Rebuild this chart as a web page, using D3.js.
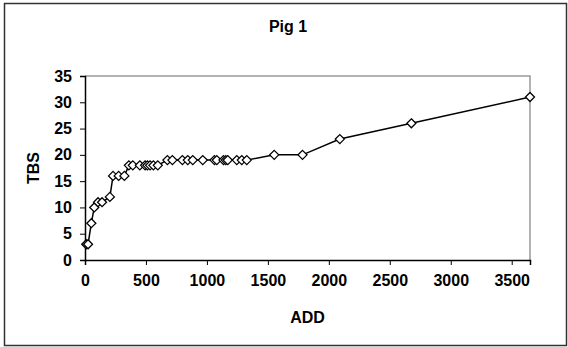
<!DOCTYPE html>
<html><head><meta charset="utf-8">
<script src="https://cdn.jsdelivr.net/npm/d3@7"></script>
<style>
html,body{margin:0;padding:0;background:#fff;}
text{font-family:"Liberation Sans",Arial,sans-serif;font-weight:bold;fill:#000;}
</style></head>
<body>
<svg id="chart" width="568" height="347"></svg>
<script>
const title = "Pig 1";
const xLabel = "ADD";
const yLabel = "TBS";
const addValues = [10, 25, 52, 76, 107, 140, 204, 230, 276, 323, 360, 392, 450, 493, 512, 534, 561, 597, 676, 717, 799, 843, 884, 966, 1062, 1081, 1136, 1155, 1171, 1245, 1286, 1327, 1552, 1784, 2090, 2677, 3650];
const tbsValues = [3, 3, 7, 10, 11, 11, 12, 16, 16, 16, 18, 18, 18, 18, 18, 18, 18, 18, 19, 19, 19, 19, 19, 19, 19, 19, 19, 19, 19, 19, 19, 19, 20, 20, 23, 26, 31];
const xTicks = [0, 500, 1000, 1500, 2000, 2500, 3000, 3500];
const yTicks = [0, 5, 10, 15, 20, 25, 30, 35];

const data = addValues.map((x, i) => ({x, y: tbsValues[i]}));
const svg = d3.select("#chart");

// outer border
svg.append("rect").attr("x", 4.5).attr("y", 3.5).attr("width", 562).attr("height", 342)
  .attr("fill", "#fff").attr("stroke", "#333").attr("stroke-width", 1.5);

const L = 85, R = 530, T = 76, B = 260;
const x = d3.scaleLinear().domain([0, 3650]).range([L, R]);
const y = d3.scaleLinear().domain([0, 35]).range([B, T]);

// plot frame (top & right gray)
svg.append("path").attr("d", `M${L},${T}H${R}V${B}`).attr("fill", "none")
  .attr("stroke", "#999").attr("stroke-width", 1.5);

const xAxis = svg.append("g").attr("transform", `translate(0,${B})`)
  .call(d3.axisBottom(x).tickValues(xTicks).tickSize(5).tickPadding(10).tickFormat(d3.format("d")));
const yAxis = svg.append("g").attr("transform", `translate(${L},0)`)
  .call(d3.axisLeft(y).tickValues(yTicks).tickSize(5).tickPadding(8).tickFormat(d3.format("d")));
[xAxis, yAxis].forEach(g => {
  g.select(".domain").attr("stroke", "#000").attr("stroke-width", 1.5);
  g.selectAll(".tick line").attr("stroke", "#000").attr("stroke-width", 1);
  g.selectAll("text").style("font-size", "16px").style("font-family", "'Liberation Sans',Arial,sans-serif")
    .style("font-weight", "bold").attr("fill", "#000");
});

// line
svg.append("path").datum(data)
  .attr("d", d3.line().x(d => x(d.x)).y(d => y(d.y)))
  .attr("fill", "none").attr("stroke", "#000").attr("stroke-width", 1.5);

// diamond markers
const s = 4.5;
svg.append("g").selectAll("path").data(data).join("path")
  .attr("d", d => `M${x(d.x)},${y(d.y) - s}L${x(d.x) + s},${y(d.y)}L${x(d.x)},${y(d.y) + s}L${x(d.x) - s},${y(d.y)}Z`)
  .attr("fill", "#fff").attr("stroke", "#000").attr("stroke-width", 1.3);

// titles
svg.append("text").attr("x", 288).attr("y", 32).attr("text-anchor", "middle")
  .style("font-size", "16px").text(title);
svg.append("text").attr("x", 307.5).attr("y", 323).attr("text-anchor", "middle")
  .style("font-size", "16px").text(xLabel);
svg.append("text").attr("transform", "translate(38.5,168) rotate(-90)").attr("text-anchor", "middle")
  .style("font-size", "16px").text(yLabel);
</script>
</body></html>
